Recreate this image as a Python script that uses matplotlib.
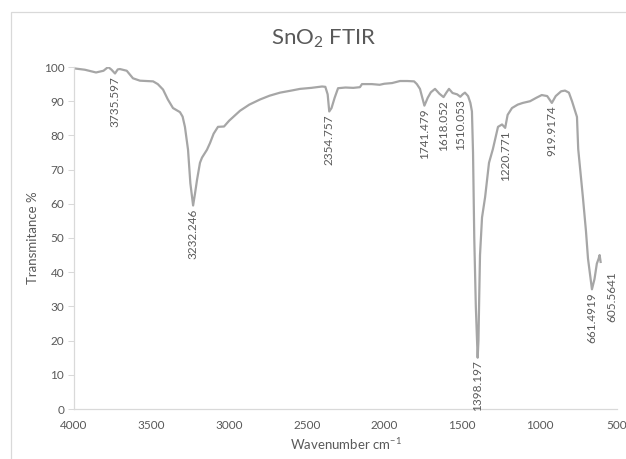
import matplotlib
matplotlib.use("Agg")
import matplotlib.pyplot as plt
from matplotlib.patches import Rectangle

plt.rcParams["font.family"] = ["Lato", "DejaVu Sans"]
plt.rcParams["mathtext.default"] = "regular"

# Spectrum (wavenumber cm-1, transmittance %)
wavenumber = [4000, 3930, 3858, 3810, 3780, 3758, 3735.597, 3718, 3704, 3660, 3640,
              3620, 3575, 3490, 3460, 3426, 3395, 3362, 3317, 3300, 3285, 3265,
              3250, 3232.246, 3220, 3207, 3188, 3175, 3143, 3123, 3100, 3072,
              3033, 3000, 2930, 2870, 2801, 2740, 2672, 2600, 2543, 2470, 2401,
              2380, 2365, 2354.757, 2340, 2320, 2298, 2250, 2200, 2157, 2144,
              2080, 2030, 2000, 1950, 1899, 1850, 1808, 1790, 1770, 1741.479,
              1720, 1700, 1673, 1645, 1618.052, 1600, 1583, 1560, 1530, 1510.053,
              1495, 1480, 1460, 1445, 1435, 1428, 1420, 1410, 1398.197, 1393,
              1388, 1383, 1370, 1350, 1340, 1325, 1300, 1267, 1241, 1220.771,
              1205, 1177, 1140, 1107, 1060, 1020, 985, 950, 919.9174, 895, 860,
              835, 810, 790, 758, 750, 720, 700, 687, 661.4919, 645, 630, 618,
              612, 605.5641]
transmittance = [99.6, 99.2, 98.4, 98.9, 100.0, 99.2, 98.1, 99.3, 99.4, 98.9, 97.8,
                 96.7, 96.0, 95.8, 95.0, 93.4, 90.5, 88.0, 86.8, 85.5, 82.5, 75.8,
                 66.0, 59.5, 63.0, 67.0, 72.0, 73.5, 75.8, 77.8, 80.5, 82.5,
                 82.6, 84.3, 87.2, 89.0, 90.5, 91.6, 92.5, 93.1, 93.6, 93.9, 94.3,
                 94.2, 92.0, 87.0, 88.0, 91.0, 93.8, 94.0, 93.9, 94.1, 95.0,
                 95.0, 94.8, 95.1, 95.3, 95.9, 95.9, 95.8, 95.0, 93.6, 88.7,
                 91.0, 92.6, 93.6, 92.2, 91.2, 92.5, 93.6, 92.4, 92.0, 91.3,
                 92.0, 92.5, 91.5, 89.5, 87.0, 75.0, 50.0, 30.0, 15.0, 20.0,
                 33.0, 45.0, 56.0, 62.0, 66.0, 72.0, 76.0, 82.5, 83.2, 82.2,
                 86.0, 88.0, 89.0, 89.5, 90.0, 91.0, 91.8, 91.5, 89.5, 91.5, 92.9,
                 93.1, 92.5, 90.0, 85.4, 76.0, 62.0, 52.0, 44.0, 35.0, 38.0,
                 42.5, 44.0, 45.0, 43.0]

peak_wn = [3735.597, 3232.246, 2354.757, 1741.479, 1618.052, 1510.053,
           1398.197, 1220.771, 919.9174, 661.4919, 605.5641]
peak_text = ["3735.597", "3232.246", "2354.757", "1741.479", "1618.052", "1510.053",
             "1398.197", "1220.771", "919.9174", "661.4919", "605.5641"]
x_ticks = [4000, 3500, 3000, 2500, 2000, 1500, 1000, 500]
y_ticks = list(range(0, 101, 10))

text_color = "#595959"
line_color = "#a6a6a6"
axis_color = "#d9d9d9"

fig = plt.figure(figsize=(6.26, 4.59), dpi=100)
ax = fig.add_axes([74 / 626, 1 - 409 / 459, 543 / 626, 342 / 459])

ax.plot(wavenumber, transmittance, color=line_color, lw=1.6, solid_joinstyle="round")

for wn, label in zip(peak_wn, peak_text):
    t = transmittance[wavenumber.index(wn)]
    # last label is nudged aside so it clears the 661 one, as in the original
    offset = (8, -7) if wn == 605.5641 else (0, -2)
    ax.annotate(label, (wn, t), xytext=offset, textcoords="offset points",
                rotation=90, ha="center", va="top", fontsize=8.5, color=text_color)

ax.set_xlim(4000, 500)
ax.set_ylim(0, 100)
ax.set_xticks(x_ticks)
ax.set_yticks(y_ticks)
ax.tick_params(axis="x", length=0, pad=8, labelsize=8.5, labelcolor=text_color)
ax.tick_params(axis="y", length=4, width=0.75, color=axis_color, pad=3,
               labelsize=8.5, labelcolor=text_color)
for side in ["top", "right"]:
    ax.spines[side].set_visible(False)
for side in ["left", "bottom"]:
    ax.spines[side].set_color(axis_color)
    ax.spines[side].set_linewidth(0.9)

fig.text(324 / 626, 1 - 39 / 459, "SnO$_2$ FTIR", ha="center", va="center",
         fontsize=16, color=text_color)
fig.text(33 / 626, 1 - 238 / 459, "Transmitance %", rotation=90, ha="center",
         va="center", fontsize=9.5, color=text_color)
fig.text(345.5 / 626, 1 - 444 / 459, "Wavenumber cm$^{-1}$", ha="center",
         va="center", fontsize=9.5, color=text_color)

# chart border
fig.patches.append(Rectangle((11 / 626, -0.2), 1.2, 0.2 + 1 - 12 / 459,
                             transform=fig.transFigure, fill=False,
                             edgecolor=axis_color, lw=0.9))

fig.savefig("out.png", dpi=100)
